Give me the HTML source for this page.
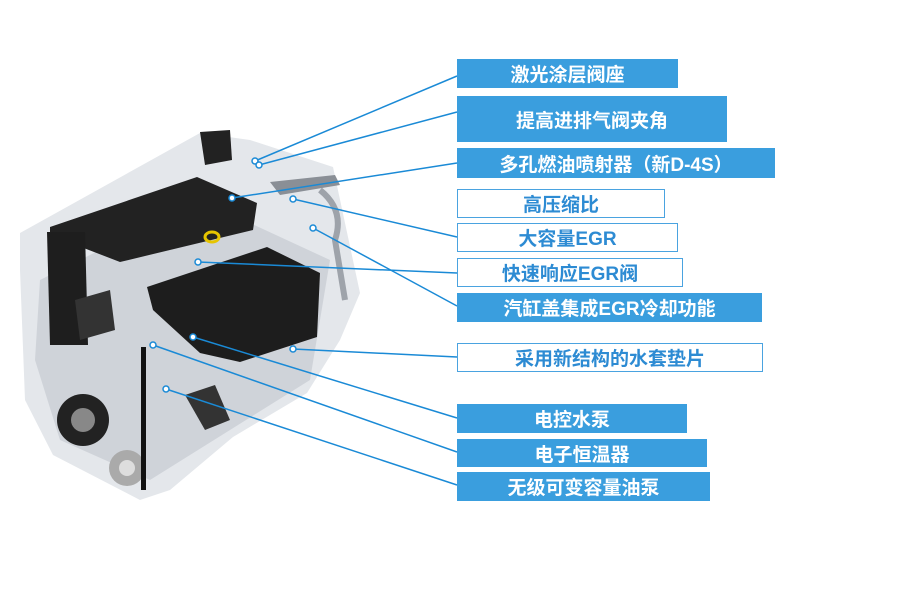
<!DOCTYPE html>
<html><head><meta charset="utf-8"><style>
body{margin:0;background:#fff;}
#c{position:relative;width:908px;height:605px;overflow:hidden;font-family:"Liberation Sans","Noto Sans CJK SC",sans-serif;}
.b{position:absolute;left:457px;box-sizing:border-box;display:flex;align-items:center;justify-content:center;font-weight:bold;font-size:19px;}
.f{background:#3a9ede;color:#fff;}
.o{background:#fff;border:1.5px solid #4aa3e0;color:#2d8bd3;}
svg{position:absolute;left:0;top:0;}
</style></head><body><div id="c">
<svg width="908" height="605">
<polygon points="20,233 200,133 250,140 333,167 360,293 340,340 307,393 233,437 170,490 140,500 53,455 25,400 20,270" fill="#e4e7eb"/>
<polygon points="40,280 200,200 330,260 310,380 230,430 150,480 60,440 35,360" fill="#cfd3d9"/>
<polygon points="50,227 197,177 257,203 253,230 120,262 50,235" fill="#222"/>
<polygon points="200,132 230,130 232,160 205,165" fill="#222"/>
<polygon points="47,232 85,232 88,345 50,345" fill="#1e1e1e"/>
<polygon points="147,287 267,247 320,273 317,337 240,362 200,353 153,310" fill="#1d1d1d"/>
<polygon points="75,300 110,290 115,330 80,340" fill="#333"/>
<polygon points="185,395 215,385 230,420 205,430" fill="#333"/>
<path d="M270,182 L335,175 L340,185 L280,195 Z" fill="#8a8f96"/>
<path d="M320,190 Q345,210 335,240 L345,300" stroke="#9ea3aa" stroke-width="6" fill="none"/>
<circle cx="83" cy="420" r="26" fill="#222"/><circle cx="83" cy="420" r="12" fill="#888"/>
<circle cx="127" cy="468" r="18" fill="#aaa"/><circle cx="127" cy="468" r="8" fill="#ddd"/>
<rect x="141" y="347" width="5" height="143" fill="#111"/>
<ellipse cx="212" cy="237" rx="7" ry="5" fill="none" stroke="#e6c400" stroke-width="3"/>
<g stroke="#1a8ad6" stroke-width="1.5" fill="none">
<line x1="255" y1="161" x2="457" y2="76"/>
<line x1="259" y1="165" x2="457" y2="112"/>
<line x1="232" y1="198" x2="457" y2="163"/>
<line x1="293" y1="199" x2="457" y2="237"/>
<line x1="198" y1="262" x2="457" y2="273"/>
<line x1="313" y1="228" x2="457" y2="306"/>
<line x1="293" y1="349" x2="457" y2="357"/>
<line x1="193" y1="337" x2="457" y2="418"/>
<line x1="153" y1="345" x2="457" y2="452"/>
<line x1="166" y1="389" x2="457" y2="485"/>
</g>
<g stroke="#1a8ad6" stroke-width="1.5" fill="#fff">
<circle cx="255" cy="161" r="3"/><circle cx="259" cy="165" r="3"/><circle cx="232" cy="198" r="3"/><circle cx="293" cy="199" r="3"/><circle cx="313" cy="228" r="3"/><circle cx="198" cy="262" r="3"/><circle cx="293" cy="349" r="3"/><circle cx="193" cy="337" r="3"/><circle cx="153" cy="345" r="3"/><circle cx="166" cy="389" r="3"/>
</g>
</svg>
<div class="b f" style="top:59px;width:221px;height:29px;">激光涂层阀座</div>
<div class="b f" style="top:96px;width:270px;height:46px;">提高进排气阀夹角</div>
<div class="b f" style="top:148px;width:318px;height:30px;">多孔燃油喷射器（新D-4S）</div>
<div class="b o" style="top:189px;width:208px;height:29px;">高压缩比</div>
<div class="b o" style="top:223px;width:221px;height:29px;">大容量EGR</div>
<div class="b o" style="top:258px;width:226px;height:29px;">快速响应EGR阀</div>
<div class="b f" style="top:293px;width:305px;height:29px;">汽缸盖集成EGR冷却功能</div>
<div class="b o" style="top:343px;width:306px;height:29px;">采用新结构的水套垫片</div>
<div class="b f" style="top:404px;width:230px;height:29px;">电控水泵</div>
<div class="b f" style="top:439px;width:250px;height:28px;">电子恒温器</div>
<div class="b f" style="top:472px;width:253px;height:29px;">无级可变容量油泵</div>
</div></body></html>
